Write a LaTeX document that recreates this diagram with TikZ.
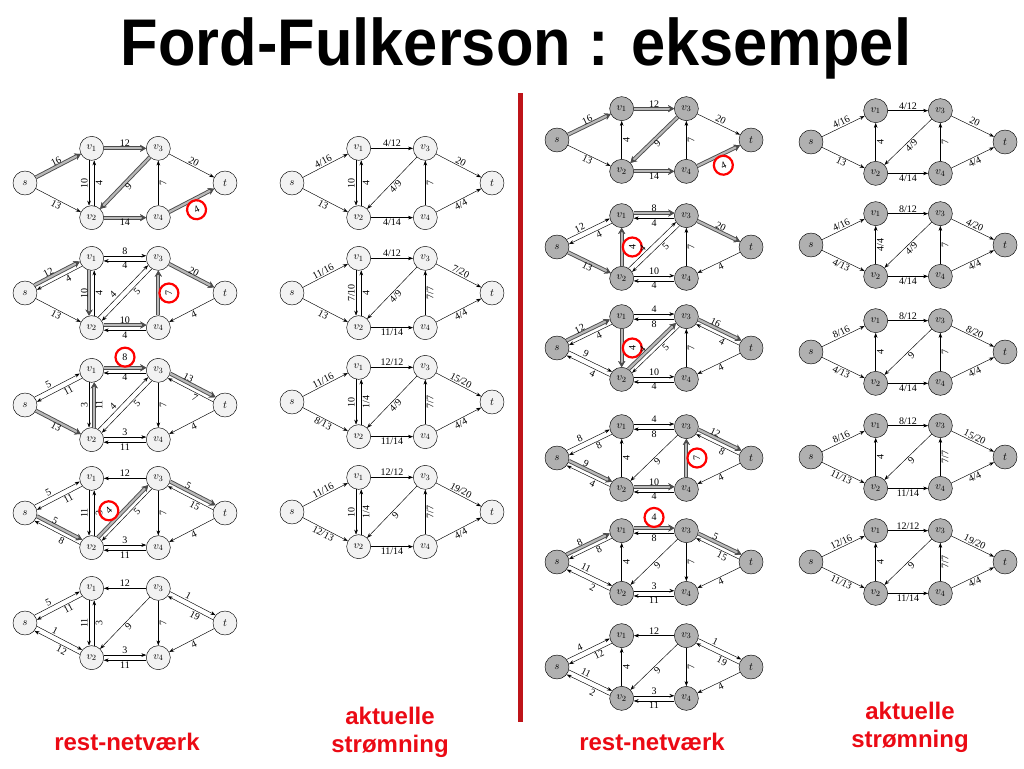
\documentclass[tikz,border=0pt]{standalone}
\usepackage{fontspec}
\setmainfont{Liberation Serif}
\setsansfont{Liberation Sans}
\usetikzlibrary{arrows.meta,calc}

\definecolor{divred}{RGB}{190,20,25}
\definecolor{txtred}{RGB}{235,10,20}

\tikzset{
  vtx/.style={circle, draw, minimum size=24pt, inner sep=0pt, font=\fontsize{11}{11}\selectfont},
  lvtx/.style={vtx, fill=gray!10},
  rvtx/.style={vtx, fill=gray!62},
  lgeo/.style={x=1.01pt, y=-1.05pt},
  rgeo/.style={x=0.98pt, y=-0.95pt},
  num/.style={inner sep=1.2pt, font=\fontsize{10}{10}\selectfont},
  la/.style={num, sloped, above},
  lb/.style={num, sloped, below},
  pa/.style={la, pos=0.4},
  pb/.style={lb, pos=0.4},
  vl/.style={num, rotate=90, anchor=south},
  vr/.style={num, rotate=90, anchor=north},
  hit/.style={draw=red, circle, line width=2.2pt, minimum size=19pt, inner sep=0pt},
  pr/.style={to path={($(\tikztostart)!#1!90:(\tikztotarget)$) -- ($(\tikztotarget)!#1!-90:(\tikztostart)$) \tikztonodes}, shorten >=12pt, shorten <=12pt},
  pr/.default=2.6pt,
  aug/.style={draw=none,
    preaction={draw=black!70, line width=4pt, -{Stealth[length=6pt, width=7pt]}},
    preaction={draw=gray!55, line width=2.2pt, -{Stealth[length=6pt, width=7pt, black!70]}}},
  botlab/.style={font=\sffamily\bfseries\fontsize{24}{28}\selectfont, text=txtred, align=center},
}

% six vertices of one network: prefix, x, y, side (l or r)
\newcommand{\netnodes}[4]{%
  \begin{scope}[shift={(#2,#3)}, #4geo]
    \node[#4vtx] (#1s)  at (0,0)     {$s$};
    \node[#4vtx] (#1v1) at (66,-33)  {$v_1$};
    \node[#4vtx] (#1v3) at (132,-33) {$v_3$};
    \node[#4vtx] (#1t)  at (198,0)   {$t$};
    \node[#4vtx] (#1v2) at (66,33)   {$v_2$};
    \node[#4vtx] (#1v4) at (132,33)  {$v_4$};
  \end{scope}}

\begin{document}
\begin{tikzpicture}[x=1pt, y=-1pt, ->, >={Stealth[length=5pt, width=3.6pt]}, line width=0.45pt]
  \useasboundingbox (0,0) rectangle (1024,768);

  \node[font=\sffamily\bfseries\fontsize{66}{66}\selectfont, anchor=base, xscale=0.93, transform shape] (title) at (516,65) {Ford-Fulkerson : eksempel};

  % divider
  \coordinate (divtop) at (520,93);
  \coordinate (divbot) at (520,722);
  \draw[-, divred, line width=5pt] (divtop) -- (divbot);

  % ---- column 1: residual networks
  \netnodes{a1}{25}{183}{l}
  \path (a1s)  edge[aug] node[la] {16} (a1v1)
               edge node[lb] {13} (a1v2);
  \path (a1v1) edge[pr=-2.6pt] node[vl] {10} (a1v2)
               edge[aug] node[la] {12} (a1v3);
  \path (a1v2) edge[pr=-2.6pt] node[vr] {4} (a1v1)
               edge[aug] node[lb] {14} (a1v4);
  \path (a1v3) edge[aug] node[lb] {9} (a1v2)
               edge node[la] {20} (a1t);
  \path (a1v4) edge node[vr] {7} (a1v3)
               edge[aug] node[lb, hit] {4} (a1t);

  \netnodes{a2}{25}{293}{l}
  \path (a2s)  edge[pr, aug] node[pa] {12} (a2v1)
               edge node[lb] {13} (a2v2);
  \path (a2v1) edge[pr] node[pb] {4} (a2s)
               edge[pr=-2.6pt, aug] node[vl] {10} (a2v2)
               edge[pr] node[la] {8} (a2v3);
  \path (a2v2) edge[pr=-2.6pt] node[vr] {4} (a2v1)
               edge[pr] node[pa] {4} (a2v3)
               edge[pr, aug] node[la] {10} (a2v4);
  \path (a2v3) edge[pr] node[lb] {4} (a2v1)
               edge[pr] node[pb] {5} (a2v2)
               edge[aug] node[la] {20} (a2t);
  \path (a2v4) edge[pr] node[lb] {4} (a2v2)
               edge[aug] node[vr, hit] {7} (a2v3);
  \path (a2t)  edge node[lb] {4} (a2v4);

  \netnodes{a3}{25}{405}{l}
  \path (a3s)  edge[pr] node[pa] {5} (a3v1)
               edge[aug] node[lb] {13} (a3v2);
  \path (a3v1) edge[pr] node[pb] {11} (a3s)
               edge[pr=-2.6pt] node[vl] {3} (a3v2)
               edge[pr, aug] node[la, hit] {8} (a3v3);
  \path (a3v2) edge[pr=-2.6pt, aug] node[vr] {11} (a3v1)
               edge[pr] node[pa] {4} (a3v3)
               edge[pr] node[la] {3} (a3v4);
  \path (a3v3) edge[pr] node[lb] {4} (a3v1)
               edge[pr] node[pb] {5} (a3v2)
               edge node[vr] {7} (a3v4)
               edge[pr, aug] node[pa] {13} (a3t);
  \path (a3v4) edge[pr] node[lb] {11} (a3v2);
  \path (a3t)  edge[pr] node[pb] {7} (a3v3)
               edge node[lb] {4} (a3v4);

  \netnodes{a4}{25}{513}{l}
  \path (a4s)  edge[pr] node[pa] {5} (a4v1)
               edge[pr, aug] node[pa] {5} (a4v2);
  \path (a4v1) edge[pr] node[pb] {11} (a4s)
               edge[pr=-2.6pt] node[vl] {11} (a4v2);
  \path (a4v2) edge[pr] node[pb] {8} (a4s)
               edge[pr=-2.6pt] node[vr] {3} (a4v1)
               edge[pr, aug] node[pa, hit] {4} (a4v3)
               edge[pr] node[la] {3} (a4v4);
  \path (a4v3) edge node[la] {12} (a4v1)
               edge[pr] node[pb] {5} (a4v2)
               edge node[vr] {7} (a4v4)
               edge[pr, aug] node[pa] {5} (a4t);
  \path (a4v4) edge[pr] node[lb] {11} (a4v2);
  \path (a4t)  edge[pr] node[pb] {15} (a4v3)
               edge node[lb] {4} (a4v4);

  \netnodes{a5}{25}{623}{l}
  \path (a5s)  edge[pr] node[pa] {5} (a5v1)
               edge[pr] node[pa] {1} (a5v2);
  \path (a5v1) edge[pr] node[pb] {11} (a5s)
               edge[pr=-2.6pt] node[vl] {11} (a5v2);
  \path (a5v2) edge[pr] node[pb] {12} (a5s)
               edge[pr=-2.6pt] node[vr] {3} (a5v1)
               edge[pr] node[la] {3} (a5v4);
  \path (a5v3) edge node[la] {12} (a5v1)
               edge node[lb] {9} (a5v2)
               edge node[vr] {7} (a5v4)
               edge[pr] node[pa] {1} (a5t);
  \path (a5v4) edge[pr] node[lb] {11} (a5v2);
  \path (a5t)  edge[pr] node[pb] {19} (a5v3)
               edge node[lb] {4} (a5v4);

  % ---- column 2: flows
  \netnodes{b1}{292}{183}{l}
  \path (b1s)  edge node[la] {4/16} (b1v1)
               edge node[lb] {13} (b1v2);
  \path (b1v1) edge[pr=-2.6pt] node[vl] {10} (b1v2)
               edge node[la] {4/12} (b1v3);
  \path (b1v2) edge[pr=-2.6pt] node[vr] {4} (b1v1)
               edge node[lb] {4/14} (b1v4);
  \path (b1v3) edge node[lb] {4/9} (b1v2)
               edge node[la] {20} (b1t);
  \path (b1v4) edge node[vr] {7} (b1v3)
               edge node[lb] {4/4} (b1t);

  \netnodes{b2}{292}{293}{l}
  \path (b2s)  edge node[la] {11/16} (b2v1)
               edge node[lb] {13} (b2v2);
  \path (b2v1) edge[pr=-2.6pt] node[vl] {7/10} (b2v2)
               edge node[la] {4/12} (b2v3);
  \path (b2v2) edge[pr=-2.6pt] node[vr] {4} (b2v1)
               edge node[lb] {11/14} (b2v4);
  \path (b2v3) edge node[lb] {4/9} (b2v2)
               edge node[la] {7/20} (b2t);
  \path (b2v4) edge node[vr] {7/7} (b2v3)
               edge node[lb] {4/4} (b2t);

  \netnodes{b3}{292}{402}{l}
  \path (b3s)  edge node[la] {11/16} (b3v1)
               edge node[lb] {8/13} (b3v2);
  \path (b3v1) edge[pr=-2.6pt] node[vl] {10} (b3v2)
               edge node[la] {12/12} (b3v3);
  \path (b3v2) edge[pr=-2.6pt] node[vr] {1/4} (b3v1)
               edge node[lb] {11/14} (b3v4);
  \path (b3v3) edge node[lb] {4/9} (b3v2)
               edge node[la] {15/20} (b3t);
  \path (b3v4) edge node[vr] {7/7} (b3v3)
               edge node[lb] {4/4} (b3t);

  \netnodes{b4}{292}{512}{l}
  \path (b4s)  edge node[la] {11/16} (b4v1)
               edge node[lb] {12/13} (b4v2);
  \path (b4v1) edge[pr=-2.6pt] node[vl] {10} (b4v2)
               edge node[la] {12/12} (b4v3);
  \path (b4v2) edge[pr=-2.6pt] node[vr] {1/4} (b4v1)
               edge node[lb] {11/14} (b4v4);
  \path (b4v3) edge node[lb] {9} (b4v2)
               edge node[la] {19/20} (b4t);
  \path (b4v4) edge node[vr] {7/7} (b4v3)
               edge node[lb] {4/4} (b4t);

  % ---- column 3: residual networks, second run
  \netnodes{c1}{557}{140}{r}
  \path (c1s)  edge[aug] node[la] {16} (c1v1)
               edge node[lb] {13} (c1v2);
  \path (c1v1) edge[aug] node[la] {12} (c1v3);
  \path (c1v2) edge node[vr] {4} (c1v1)
               edge[aug] node[lb] {14} (c1v4);
  \path (c1v3) edge[aug] node[lb] {9} (c1v2)
               edge node[la] {20} (c1t);
  \path (c1v4) edge node[vr] {7} (c1v3)
               edge[aug] node[lb, hit] {4} (c1t);

  \netnodes{c2}{557}{247}{r}
  \path (c2s)  edge[pr] node[pa] {12} (c2v1)
               edge[aug] node[lb] {13} (c2v2);
  \path (c2v1) edge[pr] node[pb] {4} (c2s)
               edge[pr, aug] node[la] {8} (c2v3);
  \path (c2v2) edge[aug] node[vr, hit] {4} (c2v1)
               edge[pr] node[pa] {4} (c2v3)
               edge[pr] node[la] {10} (c2v4);
  \path (c2v3) edge[pr] node[lb] {4} (c2v1)
               edge[pr] node[pb] {5} (c2v2)
               edge[aug] node[la] {20} (c2t);
  \path (c2v4) edge[pr] node[lb] {4} (c2v2)
               edge node[vr] {7} (c2v3);
  \path (c2t)  edge node[lb] {4} (c2v4);

  \netnodes{c3}{557}{348}{r}
  \path (c3s)  edge[pr, aug] node[pa] {12} (c3v1)
               edge[pr] node[pa] {9} (c3v2);
  \path (c3v1) edge[pr] node[pb] {4} (c3s)
               edge[aug] node[vr, hit] {4} (c3v2)
               edge[pr] node[la] {4} (c3v3);
  \path (c3v2) edge[pr] node[pb] {4} (c3s)
               edge[pr, aug] node[pa] {4} (c3v3)
               edge[pr] node[la] {10} (c3v4);
  \path (c3v3) edge[pr] node[lb] {8} (c3v1)
               edge[pr] node[pb] {5} (c3v2)
               edge[pr, aug] node[pa] {16} (c3t);
  \path (c3v4) edge[pr] node[lb] {4} (c3v2)
               edge node[vr] {7} (c3v3);
  \path (c3t)  edge[pr] node[pb] {4} (c3v3)
               edge node[lb] {4} (c3v4);

  \netnodes{c4}{557}{458}{r}
  \path (c4s)  edge[pr] node[pa] {8} (c4v1)
               edge[pr, aug] node[pa] {9} (c4v2);
  \path (c4v1) edge[pr] node[pb] {8} (c4s)
               edge[pr] node[la] {4} (c4v3);
  \path (c4v2) edge[pr] node[pb] {4} (c4s)
               edge node[vr] {4} (c4v1)
               edge[pr, aug] node[la] {10} (c4v4);
  \path (c4v3) edge[pr] node[lb] {8} (c4v1)
               edge node[lb] {9} (c4v2)
               edge[pr, aug] node[pa] {12} (c4t);
  \path (c4v4) edge[pr] node[lb] {4} (c4v2)
               edge[aug] node[vr, hit] {7} (c4v3);
  \path (c4t)  edge[pr] node[pb] {8} (c4v3)
               edge node[lb] {4} (c4v4);

  \netnodes{c5}{557}{562}{r}
  \path (c5s)  edge[pr, aug] node[pa] {8} (c5v1)
               edge[pr] node[pa] {11} (c5v2);
  \path (c5v1) edge[pr] node[pb] {8} (c5s)
               edge[pr, aug] node[la, hit] {4} (c5v3);
  \path (c5v2) edge[pr] node[pb] {2} (c5s)
               edge node[vr] {4} (c5v1)
               edge[pr] node[la] {3} (c5v4);
  \path (c5v3) edge[pr] node[lb] {8} (c5v1)
               edge node[lb] {9} (c5v2)
               edge node[vr] {7} (c5v4)
               edge[pr, aug] node[pa] {5} (c5t);
  \path (c5v4) edge[pr] node[lb] {11} (c5v2);
  \path (c5t)  edge[pr] node[pb] {15} (c5v3)
               edge node[lb] {4} (c5v4);

  \netnodes{c6}{557}{667}{r}
  \path (c6s)  edge[pr] node[pa] {4} (c6v1)
               edge[pr] node[pa] {11} (c6v2);
  \path (c6v1) edge[pr] node[pb] {12} (c6s);
  \path (c6v2) edge[pr] node[pb] {2} (c6s)
               edge node[vr] {4} (c6v1)
               edge[pr] node[la] {3} (c6v4);
  \path (c6v3) edge node[la] {12} (c6v1)
               edge node[lb] {9} (c6v2)
               edge node[vr] {7} (c6v4)
               edge[pr] node[pa] {1} (c6t);
  \path (c6v4) edge[pr] node[lb] {11} (c6v2);
  \path (c6t)  edge[pr] node[pb] {19} (c6v3)
               edge node[lb] {4} (c6v4);

  % ---- column 4: flows, second run
  \netnodes{d1}{811}{142}{r}
  \path (d1s)  edge node[la] {4/16} (d1v1)
               edge node[lb] {13} (d1v2);
  \path (d1v1) edge node[la] {4/12} (d1v3);
  \path (d1v2) edge node[vr] {4} (d1v1)
               edge node[lb] {4/14} (d1v4);
  \path (d1v3) edge node[lb] {4/9} (d1v2)
               edge node[la] {20} (d1t);
  \path (d1v4) edge node[vr] {7} (d1v3)
               edge node[lb] {4/4} (d1t);

  \netnodes{d2}{811}{245}{r}
  \path (d2s)  edge node[la] {4/16} (d2v1)
               edge node[lb] {4/13} (d2v2);
  \path (d2v1) edge node[la] {8/12} (d2v3);
  \path (d2v2) edge node[vr] {4/4} (d2v1)
               edge node[lb] {4/14} (d2v4);
  \path (d2v3) edge node[lb] {4/9} (d2v2)
               edge node[la] {4/20} (d2t);
  \path (d2v4) edge node[vr] {7} (d2v3)
               edge node[lb] {4/4} (d2t);

  \netnodes{d3}{811}{352}{r}
  \path (d3s)  edge node[la] {8/16} (d3v1)
               edge node[lb] {4/13} (d3v2);
  \path (d3v1) edge node[la] {8/12} (d3v3);
  \path (d3v2) edge node[vr] {4} (d3v1)
               edge node[lb] {4/14} (d3v4);
  \path (d3v3) edge node[lb] {9} (d3v2)
               edge node[la] {8/20} (d3t);
  \path (d3v4) edge node[vr] {7} (d3v3)
               edge node[lb] {4/4} (d3t);

  \netnodes{d4}{811}{457}{r}
  \path (d4s)  edge node[la] {8/16} (d4v1)
               edge node[lb] {11/13} (d4v2);
  \path (d4v1) edge node[la] {8/12} (d4v3);
  \path (d4v2) edge node[vr] {4} (d4v1)
               edge node[lb] {11/14} (d4v4);
  \path (d4v3) edge node[lb] {9} (d4v2)
               edge node[la] {15/20} (d4t);
  \path (d4v4) edge node[vr] {7/7} (d4v3)
               edge node[lb] {4/4} (d4t);

  \netnodes{d5}{811}{562}{r}
  \path (d5s)  edge node[la] {12/16} (d5v1)
               edge node[lb] {11/13} (d5v2);
  \path (d5v1) edge node[la] {12/12} (d5v3);
  \path (d5v2) edge node[vr] {4} (d5v1)
               edge node[lb] {11/14} (d5v4);
  \path (d5v3) edge node[lb] {9} (d5v2)
               edge node[la] {19/20} (d5t);
  \path (d5v4) edge node[vr] {7/7} (d5v3)
               edge node[lb] {4/4} (d5t);

  % captions
  \node[botlab, anchor=base] (rest1) at (127,750) {rest-netværk};
  \node[botlab] (flow1) at (390,732) {aktuelle\\strømning};
  \node[botlab, anchor=base] (rest2) at (652,750) {rest-netværk};
  \node[botlab] (flow2) at (910,727) {aktuelle\\strømning};
\end{tikzpicture}
\end{document}
